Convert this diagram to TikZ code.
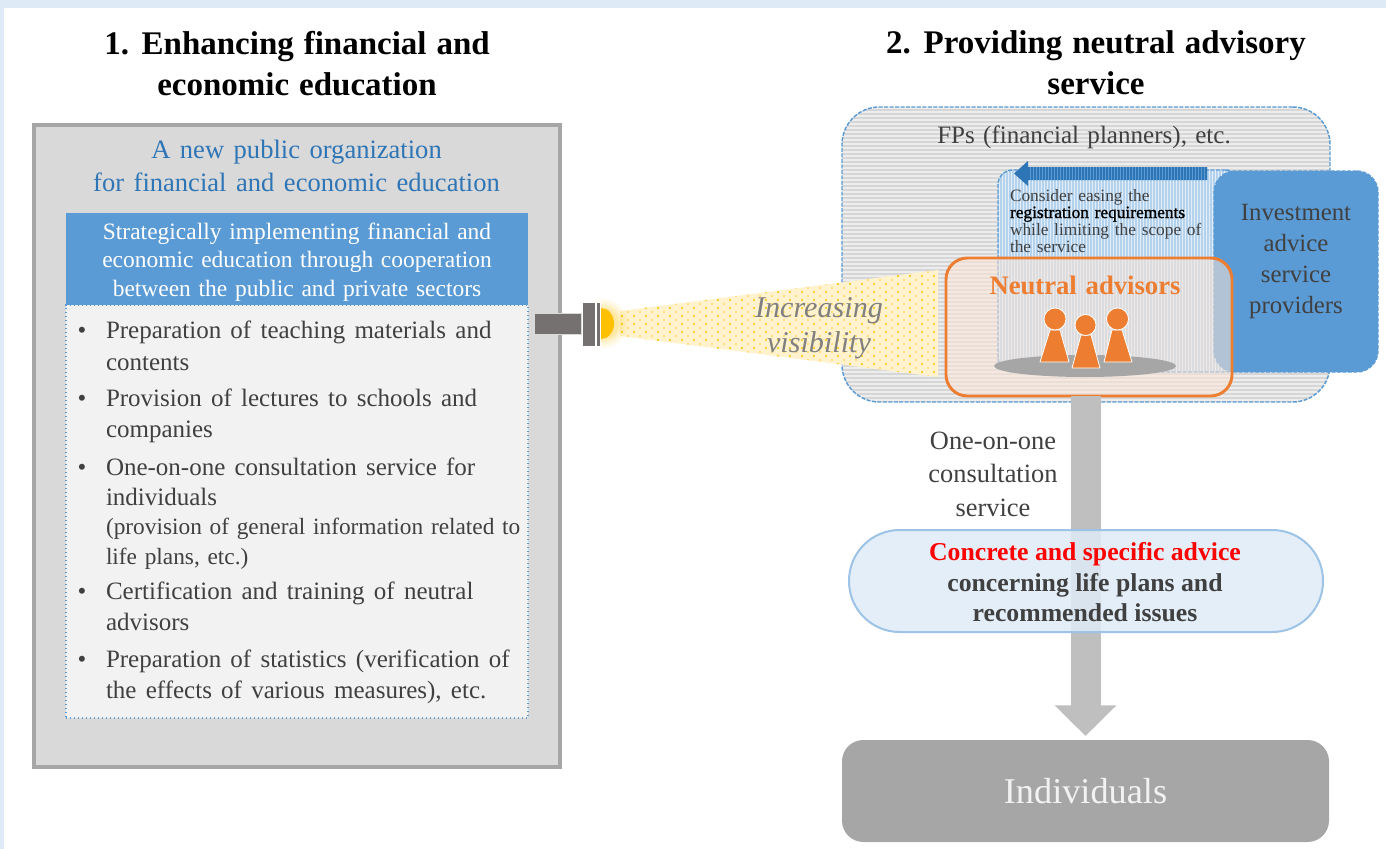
\documentclass[tikz,border=0pt]{standalone}
\usepackage{fontspec}
\setmainfont{Liberation Serif}
\usetikzlibrary{arrows.meta,calc}
\definecolor{pageblue}{HTML}{DEEAF6}
\definecolor{dk}{HTML}{404040}
\definecolor{midblue}{HTML}{5B9BD5}
\definecolor{deepblue}{HTML}{2E75B6}
\definecolor{panel}{HTML}{D9D9D9}
\definecolor{panelline}{HTML}{A6A6A6}
\definecolor{listbg}{HTML}{F2F2F2}
\definecolor{orng}{HTML}{ED7D31}
\definecolor{peach}{HTML}{FBE5D6}
\definecolor{lamp}{HTML}{FFC000}
\definecolor{beambg}{HTML}{FFF2CC}
\definecolor{torch}{HTML}{767171}
\definecolor{pillbg}{HTML}{DEEBF7}
\definecolor{pillline}{HTML}{9DC3E6}
\definecolor{arrowgrey}{HTML}{BFBFBF}
\newcommand{\fnt}[3]{\fontsize{#1}{#2}\selectfont\spaceskip=#3\relax}
\newcommand{\tsize}{\fnt{24.75pt}{30.75pt}{.3em}\bfseries}
\newcommand{\lsize}[1]{\fnt{18.75pt}{#1}{.37em}}
\newcommand{\orgsize}{\fnt{19.9pt}{24.75pt}{.36em}}
\newcommand{\headsize}{\fnt{17.6pt}{21.4pt}{.33em}}
\newcommand{\fpsize}{\fnt{18.8pt}{20pt}{.33em}}
\newcommand{\easesize}{\fnt{13pt}{12.75pt}{.33em}}
\newcommand{\neutsize}{\fnt{20pt}{22pt}{.33em}\bfseries}
\newcommand{\smallline}{\fnt{17.5pt}{22.2pt}{.33em}}
\tikzset{
  sized/.style 2 args={minimum width=#1*0.75pt,minimum height=#2*0.75pt},
  base/.style={inner sep=0pt,outer sep=0pt,rectangle},
  lab/.style={base,text=dk},
  itemtext/.style={lab,anchor=north west,align=left},
  bullet/.style={lab,anchor=base,font=\fontsize{18.75pt}{20pt}\selectfont},
  titletext/.style={base,anchor=north,align=center,text=black,font=\tsize},
  hstripes/.style={path picture={
    \foreach \k in {0,4,...,300}{
      \draw[solid,line width=.9pt,draw=#1] ([yshift=\k*0.75pt]path picture bounding box.south west) -- ([yshift=\k*0.75pt]path picture bounding box.south east);}}},
  vstripes/.style={path picture={
    \foreach \k in {0,3,...,250}{
      \draw[solid,line width=.9pt,draw=#1] ([xshift=\k*0.75pt]path picture bounding box.south west) -- ([xshift=\k*0.75pt]path picture bounding box.north west);}}},
  dashblue/.style={draw=midblue,line width=1.1pt,dash pattern=on 3pt off 1.1pt},
  bigarrow/.style={draw=arrowgrey,line width=22.5pt,-{Triangle[width=45pt,length=23pt]},shorten >=3pt},
  pawnbody/.style={fill=orng,draw=white,line width=0.6pt,line join=round},
  pawnhead/.style={fill=orng,draw=white,line width=0.6pt},
}
\begin{document}
\begin{tikzpicture}[x=0.75pt,y=-0.75pt]
\useasboundingbox (0,0) rectangle (1386,849);
% page frame
\fill[pageblue] (0,0) rectangle (1386,8);
\fill[pageblue] (0,0) rectangle (4,849);
% titles
\node[titletext] (title1) at (297,31) {1. Enhancing financial and\\economic education};
\node[titletext] (title2) at (1096,31) {2. Providing neutral advisory\\service};
% left panel
\node[base,sized={526}{642},fill=panel,draw=panelline,line width=2.5pt] (panelbox) at (297,446) {};
\node[base,anchor=north,align=center,text=deepblue,font=\orgsize] (orgtitle) at (296.5,140) {A new public organization\\for financial and economic education};
\node[base,sized={462}{413},fill=listbg,draw=midblue,line width=1pt,dotted] (listbox) at (297,511.5) {};
\node[base,sized={462}{92},fill=midblue] (header) at (297,259) {};
\node[base,text=white,align=center,font=\headsize] (headertext) at (297,262) {Strategically implementing financial and\\economic education through cooperation\\between the public and private sectors};
% items
\node[bullet] (b1) at (82,338) {•};
\node[bullet] (b2) at (82,406) {•};
\node[bullet] (b3) at (82,475) {•};
\node[bullet] (b4) at (82,599) {•};
\node[bullet] (b5) at (82,667) {•};
\node[itemtext,font=\lsize{24pt}] (i1) at (106,321) {Preparation of teaching materials and\\contents};
\node[itemtext,font=\lsize{23.25pt}] (i2) at (106,389) {Provision of lectures to schools and\\companies};
\node[itemtext,font=\lsize{22.2pt}] (i3) at (106,458) {One-on-one consultation service for\\individuals};
\node[itemtext,font=\smallline] (i3b) at (106,518.5) {(provision of general information related to\\life plans, etc.)};
\node[itemtext,font=\lsize{23.25pt}] (i4) at (106,582) {Certification and training of neutral\\advisors};
\node[itemtext,font=\lsize{23.25pt}] (i5) at (106,650) {Preparation of statistics (verification of\\the effects of various measures), etc.};
% FP box
\node[base,sized={488}{295},rounded corners=28pt,fill=white!93!black,hstripes={white!84!black},dashblue] (fp) at (1086,254.5) {};
\node[lab,anchor=base,font=\fpsize] (fptext) at (1084,143) {FPs (financial planners), etc.};
% easing box
\node[base,sized={242}{202},rounded corners=11pt,fill=white!82!midblue,vstripes={white!55!midblue},dashblue] (easing) at (1119,271) {};
% easing arrow
\begin{scope}
\clip (1207,167) -- (1028,167) -- (1028,161) -- (1014,173.5) -- (1028,186) -- (1028,180) -- (1207,180) -- cycle;
\fill[deepblue] (1010,160) rectangle (1210,190);
\foreach \k in {1030,1033,...,1207}{\fill[midblue] (\k,160) rectangle (\k+1.2,190);}
\end{scope}
\node[itemtext,font=\easesize] (easingtext) at (1010,189) {Consider easing the\\\textcolor{black}{\addfontfeature{FakeBold=1.2}registration requirements}\\while limiting the scope of\\the service};
% investment box
\node[base,sized={164}{201},rounded corners=16pt,fill=midblue,dashblue] (invest) at (1296,271.5) {};
\node[base,text=dk,align=center,font=\fontsize{18.6pt}{23.25pt}\selectfont] (investtext) at (1296,261.5) {Investment\\advice\\service\\providers};
% beam
\path[fill=beambg,draw=none] (620,311) -- (938,270) -- (938,377) -- (620,336) -- cycle;
\begin{scope}
\clip (620,311) -- (938,270) -- (938,377) -- (620,336) -- cycle;
\foreach \cx in {622,634,...,934}{
  \foreach \cy in {268,276,...,380}{
    \fill[lamp] (\cx,\cy) circle[radius=1.1];
    \fill[lamp,opacity=.8] (\cx+6,\cy+4) circle[radius=0.9];
  }}
\end{scope}
\node[base,anchor=north,align=center,text=black!50,font=\fontsize{22.6pt}{26.2pt}\selectfont\itshape] (vis) at (819,297.5) {Increasing\\visibility};
% flashlight
\foreach \r/\o in {25/.06,22/.08,19/.12,16/.16}{\fill[lamp,opacity=\o] (603,323.5) circle[radius=\r];}
\node[base,sized={47}{21},fill=torch,draw=white!85!black,line width=.4pt] (handle) at (558,323.5) {};
\node[base,sized={13}{44},fill=torch,draw=white,line width=.5pt] (lamphead) at (589,324) {};
\node[base,sized={4}{44},fill=torch,draw=white,line width=.5pt] (lamprim) at (598,324) {};
\fill[lamp] (601,308) arc[start angle=-90,end angle=90,x radius=13,y radius=15.5] -- cycle;
% neutral box
\node[base,sized={286}{138},rounded corners=16pt,draw=orng,line width=2.2pt,fill=peach,fill opacity=.55,draw opacity=1] (neutral) at (1089,327) {};
\node[base,anchor=base,text=orng,font=\neutsize] (neutraltext) at (1085,294) {Neutral advisors};
\fill[panelline] (1085,366) ellipse[x radius=91,y radius=11];
\path[pawnbody] (1050,330) -- (1060,330) -- (1069,362) -- (1040,362) -- cycle;
\path[pawnhead] (1055,319) circle[radius=11];
\path[pawnbody] (1112,330) -- (1122,330) -- (1132,362) -- (1104,362) -- cycle;
\path[pawnhead] (1117.5,319) circle[radius=11];
\path[pawnbody] (1081,335) -- (1091,335) -- (1100,368) -- (1072,368) -- cycle;
\path[pawnhead] (1085.5,325) circle[radius=10.5];
% individuals + arrow
\node[base,sized={487}{102},rounded corners=16pt,fill=panelline,text=white!95!black,font=\fontsize{27.2pt}{30pt}\selectfont] (indiv) at (1085.5,791) {\raisebox{-1.5pt}{Individuals}};
\draw[bigarrow] (indiv.north |- neutral.south) -- (indiv.north);
\node[lab,anchor=north,align=center,font=\fontsize{19.8pt}{25pt}\selectfont] (oneonone) at (993,432) {One-on-one\\consultation\\service};
\node[base,sized={474}{102},rounded corners=38pt,fill=pillbg,fill opacity=.85,draw=pillline,line width=1.5pt,draw opacity=1,text opacity=1] (pill) at (1086,581) {};
\node[lab,anchor=north,align=center,font=\fontsize{19.3pt}{23.2pt}\selectfont\bfseries] (pilltext) at (1085,542) {\textcolor{red}{Concrete and specific advice}\\concerning life plans and\\recommended issues};
\end{tikzpicture}
\end{document}
